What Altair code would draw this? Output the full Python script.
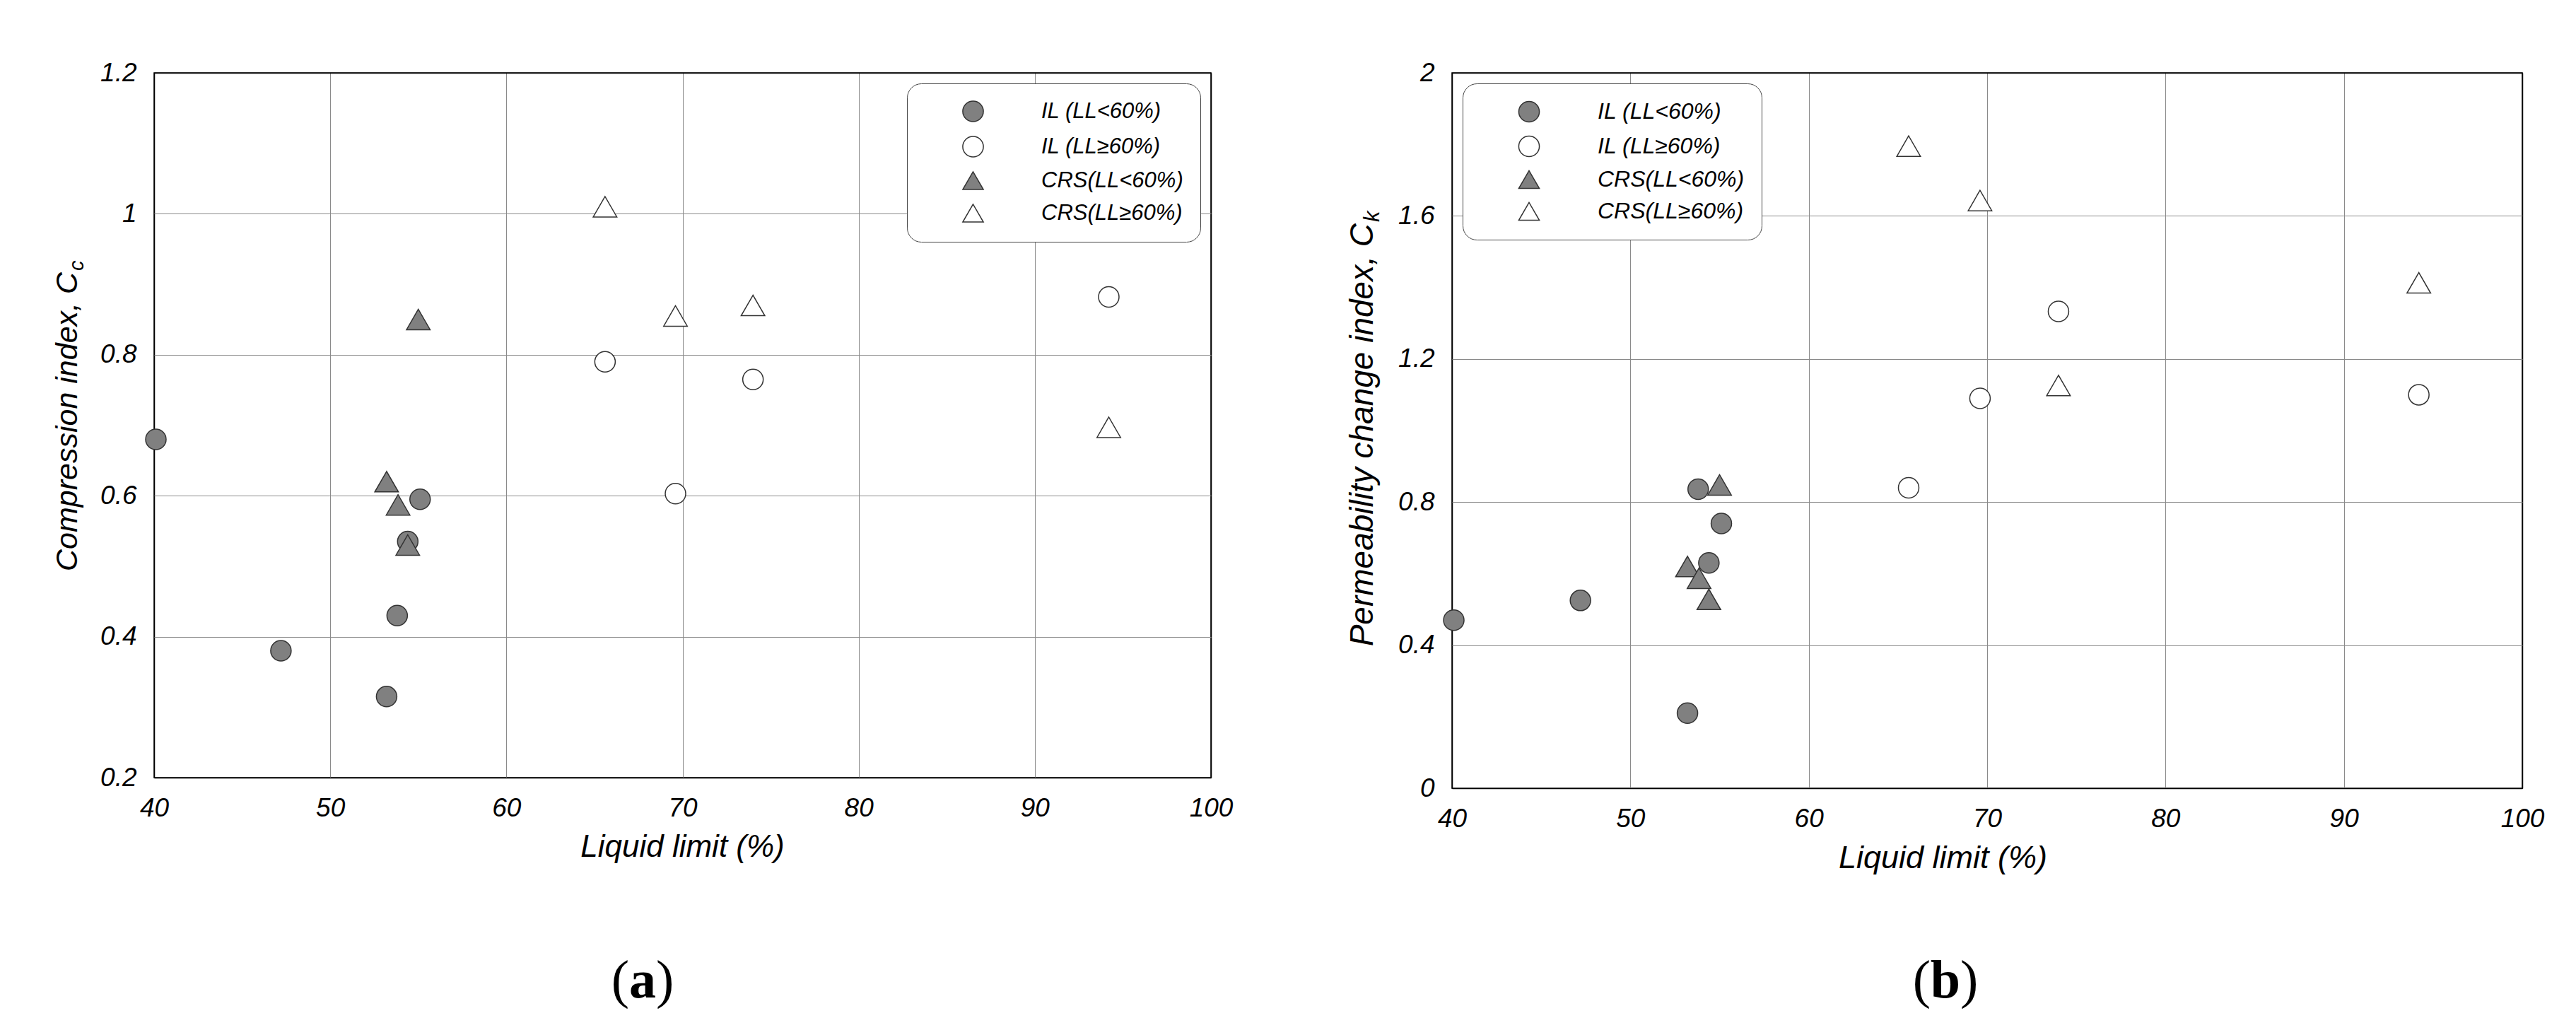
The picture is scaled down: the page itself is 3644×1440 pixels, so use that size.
import altair as alt
import pandas as pd

# ---------------- data ----------------
SERIES = ["IL (LL<60%)", "IL (LL≥60%)", "CRS(LL<60%)", "CRS(LL≥60%)"]
SHAPES = ["circle", "circle", "triangle-up", "triangle-up"]
FILLS = ["#808080", "white", "#808080", "white"]
EDGES = ["#333333", "#333333", "#333333", "#333333"]

LL_IL_LOW = [40.1, 47.2, 53.2, 53.8, 54.4, 55.1]
CC_IL_LOW = [0.68, 0.38, 0.315, 0.43, 0.535, 0.595]
CK_IL_LOW = [0.47, 0.525, 0.21, 0.836, 0.63, 0.74]

LL_CRS_LOW = [53.2, 53.85, 54.4, 55.0]
CC_CRS_LOW = [0.62, 0.587, 0.53, 0.85]
CK_CRS_LOW = [0.62, 0.587, 0.528, 0.848]

LL_HIGH = [65.6, 69.6, 74.0, 94.2]
CC_IL_HIGH = [0.79, 0.603, 0.765, 0.882]
CK_IL_HIGH = [0.84, 1.09, 1.333, 1.10]
CC_CRS_HIGH = [1.01, 0.855, 0.87, 0.697]
CK_CRS_HIGH = [1.795, 1.643, 1.126, 1.413]

X_TICKS = [40, 50, 60, 70, 80, 90, 100]
YA_TICKS = [0.2, 0.4, 0.6, 0.8, 1.0, 1.2]
YB_TICKS = [0, 0.4, 0.8, 1.2, 1.6, 2.0]

X_TITLE = "Liquid limit (%)"
YA_TITLE = ["Compression index, C", "c"]
YB_TITLE = ["Permeability change index, C", "k"]
LETTERS = ["a", "b"]

FONT = "Liberation Sans"
SERIF = "Liberation Serif"
GRID = "#8a8a8a"


def frame(ll, vals, name):
    return pd.DataFrame({"LL": ll, "v": vals, "series": name})


def one_text(s):
    return alt.Chart(pd.DataFrame({"t": [s]}))


def panel(circ, tri, width, height, ydom, yticks, ytitle, yt_size, title_x, title_y,
          xt_size, xt_x, leg_orient, leg_size, letter, letter_x, letter_w):
    edge_x = "datum.value == 40 || datum.value == 100"
    edge_y = f"datum.value == {ydom[0]} || datum.value == {ydom[1]}"
    xenc = alt.X("LL:Q", scale=alt.Scale(domain=[40, 100], nice=False, zero=False),
                 axis=alt.Axis(values=X_TICKS, title=X_TITLE, titleFontSize=xt_size,
                               titleX=xt_x, titleAlign="center", labelFlush=False,
                               gridColor={"condition": {"test": edge_x, "value": "black"}, "value": GRID},
                               gridWidth={"condition": {"test": edge_x, "value": 1.5}, "value": 1}))
    yenc = alt.Y("v:Q", scale=alt.Scale(domain=ydom, nice=False, zero=False),
                 axis=alt.Axis(values=yticks, title=None, format="~g",
                               gridColor={"condition": {"test": edge_y, "value": "black"}, "value": GRID},
                               gridWidth={"condition": {"test": edge_y, "value": 1.5}, "value": 1}))
    leg = alt.Legend(title=None, orient=leg_orient, offset=15, padding=24, cornerRadius=20,
                     strokeColor="#444", fillColor="white", symbolOffset=54, labelOffset=81,
                     rowPadding=13, labelFont=FONT, labelFontStyle="italic", labelFontSize=leg_size,
                     labelColor="black", symbolSize=850, symbolStrokeColor=EDGES[0],
                     symbolStrokeWidth=1.5, symbolOpacity=1, labelLimit=600)
    shape = alt.Shape("series:N", scale=alt.Scale(domain=SERIES, range=SHAPES), legend=leg)
    fill = alt.Fill("series:N", scale=alt.Scale(domain=SERIES, range=FILLS), legend=leg)
    stroke = alt.Stroke("series:N", scale=alt.Scale(domain=SERIES, range=EDGES), legend=leg)

    circles = alt.Chart(circ).mark_point(filled=True, size=840, strokeWidth=1.5, opacity=1).encode(
        x=xenc, y=yenc, shape=shape, fill=fill, stroke=stroke)
    tris = alt.Chart(tri).mark_point(filled=True, size=1120, strokeWidth=1.5, opacity=1).encode(
        x=xenc, y=yenc, shape=shape, fill=fill, stroke=stroke)

    tmain = one_text(ytitle[0]).mark_text(align="right", baseline="alphabetic", angle=270, font=FONT,
                                          fontStyle="italic", fontSize=yt_size, color="black").encode(
        text="t:N", x=alt.value(title_x), y=alt.value(title_y))
    tsub = one_text(ytitle[1]).mark_text(align="left", baseline="alphabetic", angle=270, font=FONT,
                                         fontStyle="italic", fontSize=round(yt_size * 0.68),
                                         dy=round(yt_size * 0.2), dx=2, color="black").encode(
        text="t:N", x=alt.value(title_x), y=alt.value(title_y))

    ly = 1308
    lpar = one_text("(").mark_text(align="right", baseline="alphabetic", font=SERIF, fontSize=76,
                                   color="black").encode(text="t:N", x=alt.value(letter_x - letter_w / 2),
                                                         y=alt.value(ly))
    lmid = one_text(letter).mark_text(align="center", baseline="alphabetic", font=SERIF, fontSize=76,
                                      fontWeight="bold", color="black").encode(
        text="t:N", x=alt.value(letter_x), y=alt.value(ly))
    rpar = one_text(")").mark_text(align="left", baseline="alphabetic", font=SERIF, fontSize=76,
                                   color="black").encode(text="t:N", x=alt.value(letter_x + letter_w / 2),
                                                         y=alt.value(ly))

    return alt.layer(circles, tris, tmain, tsub, lpar, lmid, rpar).properties(width=width, height=height)


circ_a = pd.concat([frame(LL_IL_LOW, CC_IL_LOW, SERIES[0]), frame(LL_HIGH, CC_IL_HIGH, SERIES[1])])
tri_a = pd.concat([frame(LL_CRS_LOW, CC_CRS_LOW, SERIES[2]), frame(LL_HIGH, CC_CRS_HIGH, SERIES[3])])
circ_b = pd.concat([frame(LL_IL_LOW, CK_IL_LOW, SERIES[0]), frame(LL_HIGH, CK_IL_HIGH, SERIES[1])])
tri_b = pd.concat([frame(LL_CRS_LOW, CK_CRS_LOW, SERIES[2]), frame(LL_HIGH, CK_CRS_HIGH, SERIES[3])])

left = panel(circ_a, tri_a, 1495, 997, [0.2, 1.2], YA_TICKS, YA_TITLE, 43, -109, 282,
             44, 747, "top-right", 31, LETTERS[0], 691, 38)
right = panel(circ_b, tri_b, 1514, 1012, [0, 2], YB_TICKS, YB_TITLE, 46, -112, 213,
              45, 694, "top-left", 32, LETTERS[1], 698, 42)

chart = alt.hconcat(left, right, spacing=341, bounds="flush").resolve_scale(
    shape="independent", fill="independent", stroke="independent"
).properties(
    padding={"left": 66, "top": 75, "right": 0, "bottom": 0}
).configure_view(
    stroke="black", strokeWidth=1.5
).configure_axis(
    labelFont=FONT, labelFontStyle="italic", labelFontSize=37, labelColor="black",
    labelPadding=25, titleFont=FONT, titleFontStyle="italic", titleFontWeight="normal",
    titleColor="black", titlePadding=15, domain=False, ticks=False, tickSize=0
)

chart.save("out.html", embed_options={"renderer": "svg", "actions": False})
